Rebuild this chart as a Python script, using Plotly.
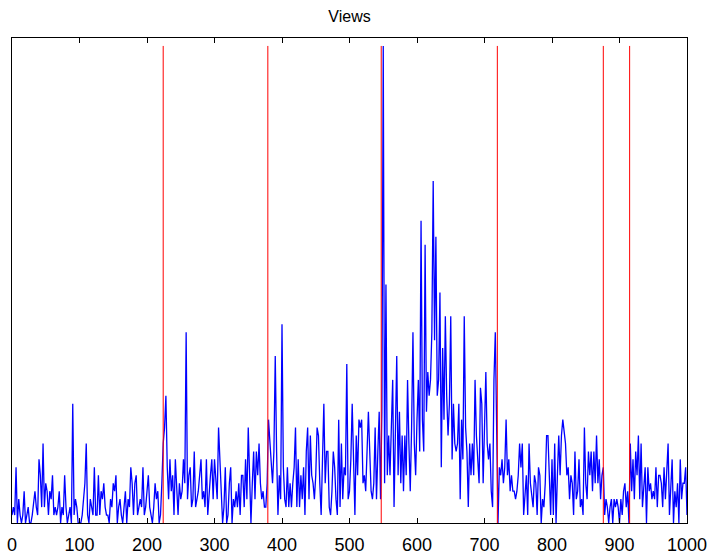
import plotly.graph_objects as go

# Sample index (every 2 steps) and view counts per sample
sample_step = 2
views = [
    1, 2, 1, 7, 0, 3, 1, 0, 1, 4,          # 0-18
    0, 1, 2, 0, 0, 1, 3, 4, 2, 1,          # 20-38
    8, 6, 2, 10, 2, 5, 4, 1, 4, 3,         # 40-58
    6, 1, 2, 1, 2, 4, 0, 2, 1, 6,          # 60-78
    2, 0, 1, 2, 0, 15, 1, 3, 2, 0,         # 80-98
    0, 0, 1, 3, 5, 10, 1, 0, 3, 2,         # 100-118
    1, 7, 1, 1, 6, 1, 4, 3, 5, 2,          # 120-138
    1, 1, 0, 3, 2, 5, 4, 6, 0, 2,          # 140-158
    3, 1, 0, 2, 4, 0, 3, 2, 7, 5,          # 160-178
    1, 5, 6, 1, 2, 3, 2, 7, 1, 2,          # 180-198
    4, 6, 2, 1, 0, 2, 5, 3, 4, 0,          # 200-218
    1, 5, 10, 12, 16, 7, 3, 8, 4, 6,       # 220-238
    1, 8, 4, 1, 5, 3, 4, 8, 5, 24,         # 240-258
    3, 6, 7, 2, 3, 9, 2, 3, 4, 6,          # 260-278
    8, 3, 4, 2, 8, 1, 4, 6, 8, 3,          # 280-298
    8, 5, 3, 12, 8, 5, 0, 2, 7, 0,         # 300-318
    1, 5, 7, 0, 3, 2, 4, 2, 5, 1,          # 320-338
    6, 6, 2, 8, 3, 12, 4, 0, 5, 9,         # 340-358
    3, 9, 6, 10, 5, 3, 4, 2, 2, 5,         # 360-378
    13, 10, 7, 5, 9, 21, 9, 1, 6, 3,       # 380-398
    25, 7, 3, 2, 7, 2, 5, 2, 5, 7,         # 400-418
    12, 2, 8, 2, 6, 3, 7, 1, 9, 12,        # 420-438
    3, 11, 6, 5, 3, 6, 12, 11, 5, 1,       # 440-458
    8, 15, 5, 9, 9, 2, 1, 4, 9, 7,         # 460-478
    3, 1, 13, 2, 10, 3, 7, 6, 20, 3,       # 480-498
    4, 8, 15, 8, 1, 11, 6, 13, 12, 13,     # 500-518
    5, 6, 4, 9, 14, 9, 4, 3, 5, 12,        # 520-538
    3, 9, 14, 3, 14, 60, 5, 30, 6, 11,     # 540-558
    6, 12, 18, 2, 11, 21, 6, 14, 5, 11,    # 560-578
    4, 11, 6, 18, 10, 4, 12, 24, 10, 6,    # 580-598
    13, 18, 9, 38, 13, 9, 35, 14, 19, 16,  # 600-618
    18, 24, 43, 23, 36, 16, 18, 29, 7, 22, # 620-638
    13, 26, 16, 11, 15, 26, 8, 15, 10, 9,  # 640-658
    10, 15, 3, 13, 8, 26, 12, 9, 2, 10,    # 660-678
    6, 10, 6, 18, 11, 8, 5, 17, 15, 5,     # 680-698
    11, 19, 10, 8, 10, 4, 2, 18, 24, 12,   # 700-718
    0, 7, 6, 8, 5, 7, 13, 6, 8, 4,         # 720-738
    6, 4, 4, 3, 4, 6, 10, 7, 10, 1,        # 740-758
    4, 6, 1, 10, 5, 3, 2, 6, 5, 1,         # 760-778
    7, 6, 0, 3, 2, 5, 11, 11, 7, 1,        # 780-798
    8, 1, 10, 0, 6, 11, 6, 11, 13, 11,     # 800-818
    10, 6, 7, 3, 6, 5, 1, 9, 3, 4,         # 820-838
    8, 2, 3, 1, 12, 5, 3, 9, 6, 9,         # 840-858
    4, 9, 5, 11, 5, 8, 3, 6, 7, 1,         # 860-878
    3, 2, 0, 2, 3, 0, 3, 2, 3, 2,          # 880-898
    0, 3, 1, 4, 5, 2, 4, 0, 10, 4,         # 900-918
    8, 3, 9, 6, 11, 3, 10, 2, 4, 7,        # 920-938
    0, 7, 4, 5, 3, 4, 3, 7, 2, 6,          # 940-958
    6, 5, 2, 7, 3, 7, 10, 1, 5, 8,         # 960-978
    0, 4, 2, 5, 0, 8, 3, 5, 5, 7, 1,       # 980-1000
]
sample_x = [i * sample_step for i in range(len(views))]

# Change points marked with vertical red lines
change_points = [224, 379, 547, 719, 876, 915]

x_ticks = list(range(0, 1001, 100))
y_top = 61

peak = max(views)
cp_x, cp_y = [], []
for cp in change_points:
    cp_x += [cp, cp, None]
    cp_y += [0, peak, None]

fig = go.Figure()
fig.add_trace(go.Scatter(
    x=sample_x, y=views, mode="lines",
    line=dict(color="#0000ff", width=1.3),
    hoverinfo="skip", showlegend=False,
))
fig.add_trace(go.Scatter(
    x=cp_x, y=cp_y, mode="lines",
    line=dict(color="#ff0000", width=1),
    hoverinfo="skip", showlegend=False,
))

font_family = "Liberation Sans, Arial, sans-serif"

fig.update_layout(
    width=711, height=555,
    margin=dict(l=12, r=24, t=38, b=32, autoexpand=False),
    paper_bgcolor="white", plot_bgcolor="white",
    font=dict(family=font_family, color="black"),
    title=dict(text="Views", x=(12 + 687) / 2 / 711, xanchor="center",
               y=1 - 16 / 555, yanchor="middle",
               font=dict(family=font_family, size=16, color="black")),
)
fig.update_xaxes(
    range=[0, 1000], tickvals=x_ticks, ticktext=[str(t) for t in x_ticks],
    showgrid=False, zeroline=False, automargin=False,
    showline=True, linecolor="black", linewidth=1.2, mirror="ticks",
    ticks="inside", ticklen=5, tickwidth=1, tickcolor="black",
    ticklabelstandoff=5,
    tickfont=dict(family=font_family, size=18, color="black"),
)
fig.update_yaxes(
    range=[0, y_top], showticklabels=False, ticks="",
    showgrid=False, zeroline=False, automargin=False,
    showline=True, linecolor="black", linewidth=1.2, mirror=True,
)

fig.write_html("out.html")
